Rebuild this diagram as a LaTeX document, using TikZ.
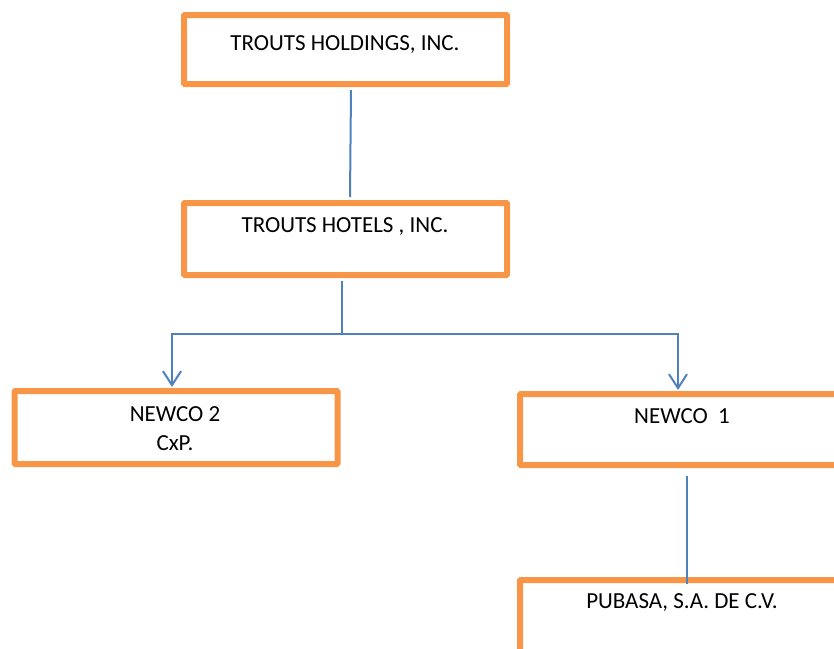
\documentclass[tikz,border=0pt]{standalone}
\usepackage{fontspec}
\setmainfont{Carlito}
\usetikzlibrary{arrows.meta,calc}
\definecolor{boxorange}{HTML}{F79646}
\definecolor{lineblue}{HTML}{4F81BD}
\begin{document}
\begin{tikzpicture}[x=1pt,y=-1pt,
  orgbox/.style={draw=boxorange,line width=6pt,rounded corners=0.8pt,fill=white,minimum width=323pt,inner sep=0pt},
  orgtext/.style={font=\fontsize{23}{29}\selectfont,align=center,inner sep=0pt,text=black},
  conn/.style={draw=lineblue,line width=2pt},
  arr/.style={conn,-{Straight Barb[length=14pt,width=18pt,line width=2pt]}}]
\useasboundingbox (0,0) rectangle (834,648);
\clip (0,0) rectangle (834,648);
% boxes
\node[orgbox,minimum height=69pt] (b1) at (345.5,49.5) {};
\node[orgbox,minimum height=72pt] (b2) at (345.5,239) {};
\node[orgbox,minimum height=73pt] (b3) at (176,427.5) {};
\node[orgbox,minimum height=71pt] (b4) at (681.5,429.5) {};
\node[orgbox,minimum height=72pt] (b5) at (681.5,616) {};
% texts
\node[orgtext] (t1) at (345,45) {TROUTS HOLDINGS, INC.};
\node[orgtext] (t2) at (345,227) {TROUTS HOTELS , INC.};
\node[orgtext] (t3) at (175,428.5) {NEWCO 2\\CxP.};
\node[orgtext] (t4) at (682,416) {NEWCO\ \ 1};
\node[orgtext] (t5) at (682,602) {PUBASA, S.A. DE C.V.};
% connectors
\coordinate (j1) at (342,333.5);
\draw[conn] ($(b1.south)+(5.5,3)$) -- ($(b2.north)+(4.5,-3)$);
\draw[conn] ($(b2.south)+(-3.5,3)$) -- (j1);
\draw[arr] (j1) -- (172,333.5) -- ($(b3.north -| 172,0)+(0,-1)$);
\draw[arr] (j1) -- (678,333.5) -- ($(b4.north -| 678,0)+(0,-1)$);
\draw[conn] ($(b4.south)+(5.5,8)$) -- ($(b5.north)+(5.5,7)$);
\end{tikzpicture}
\end{document}
